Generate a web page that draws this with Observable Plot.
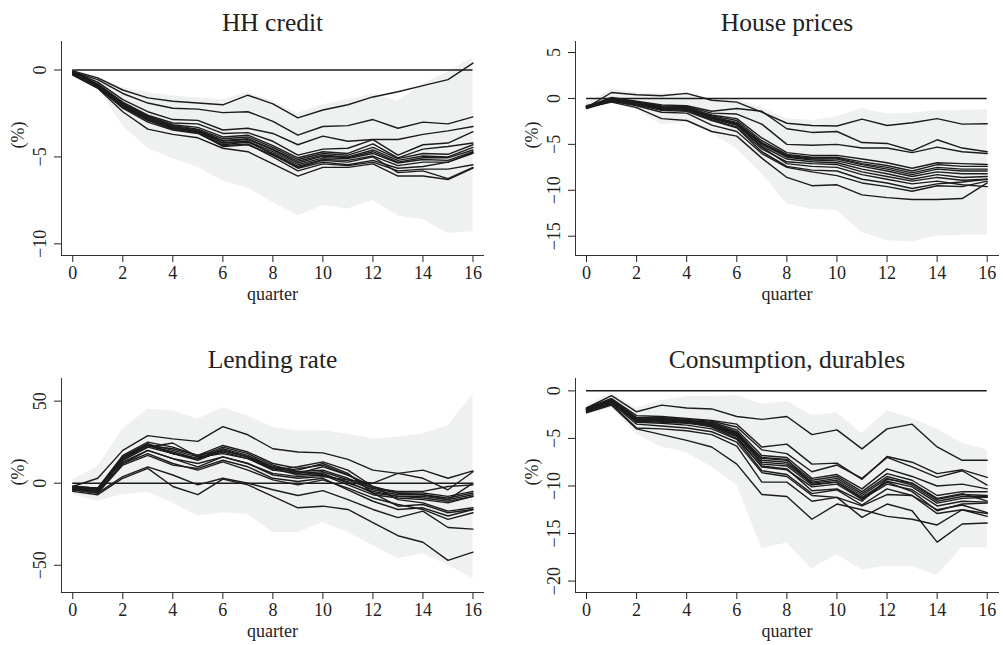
<!DOCTYPE html>
<html>
<head>
<meta charset="utf-8">
<script src="https://cdn.jsdelivr.net/npm/d3@7"></script>
<script src="https://cdn.jsdelivr.net/npm/@observablehq/plot@0.6"></script>
<style>
  html, body { margin: 0; padding: 0; background: #fff; }
  #figure { position: relative; width: 1003px; height: 645px; overflow: hidden; }
  #figure svg { position: absolute; overflow: visible; }
</style>
</head>
<body>
<div id="figure"></div>
<script>
// Impulse responses over 16 quarters: one line per model, shaded band = error bands.
const quarters = [0, 1, 2, 3, 4, 5, 6, 7, 8, 9, 10, 11, 12, 13, 14, 15, 16];
const xTicks = [0, 2, 4, 6, 8, 10, 12, 14, 16];

// HH credit (%)
const hhCreditLines = [
  [-0.05, -0.45, -1.15, -1.6, -1.8, -1.9, -2.0, -1.45, -1.95, -2.75, -2.3, -2.0, -1.55, -1.25, -0.9, -0.55, 0.4],
  [-0.1, -0.55, -1.35, -1.9, -2.2, -2.25, -2.45, -2.4, -2.95, -3.75, -3.25, -3.2, -2.85, -3.35, -3.0, -3.1, -2.7],
  [-0.1, -0.7, -1.7, -2.4, -2.85, -2.9, -3.45, -3.35, -3.65, -4.3, -3.8, -4.1, -4.0, -4.0, -3.7, -3.5, -3.25],
  [-0.1, -0.8, -1.85, -2.6, -3.05, -3.1, -3.65, -3.6, -4.1, -4.9, -4.55, -4.5, -4.0, -4.9, -4.3, -4.2, -3.55],
  [-0.15, -0.85, -1.9, -2.65, -3.15, -3.3, -3.85, -3.75, -4.35, -5.05, -4.7, -4.8, -4.25, -5.05, -4.55, -4.4, -4.2],
  [-0.15, -0.9, -1.95, -2.7, -3.2, -3.4, -3.95, -3.85, -4.45, -5.15, -4.8, -4.9, -4.45, -5.1, -4.8, -4.85, -4.3],
  [-0.2, -0.9, -2.0, -2.75, -3.25, -3.45, -4.05, -3.95, -4.55, -5.25, -4.9, -5.0, -4.6, -5.2, -4.95, -5.0, -4.45],
  [-0.2, -0.95, -2.05, -2.8, -3.3, -3.5, -4.1, -4.0, -4.6, -5.35, -4.95, -5.05, -4.7, -5.3, -5.05, -5.05, -4.6],
  [-0.2, -0.95, -2.1, -2.85, -3.35, -3.55, -4.2, -4.1, -4.7, -5.45, -5.05, -5.1, -4.8, -5.35, -5.15, -5.2, -4.7],
  [-0.25, -1.0, -2.15, -2.9, -3.4, -3.6, -4.3, -4.15, -4.8, -5.55, -5.15, -5.2, -4.95, -5.5, -5.3, -5.3, -4.8],
  [-0.2, -0.9, -2.05, -2.85, -3.3, -3.5, -4.2, -4.1, -4.85, -5.65, -5.3, -5.45, -5.2, -5.65, -5.55, -5.3, -4.75],
  [-0.25, -1.0, -2.2, -3.0, -3.45, -3.65, -4.35, -4.25, -5.0, -5.8, -5.4, -5.5, -5.3, -5.8, -5.7, -5.7, -5.45],
  [-0.3, -1.05, -2.4, -3.4, -3.7, -3.9, -4.5, -4.7, -5.4, -6.1, -5.6, -5.6, -5.4, -6.1, -6.1, -6.3, -5.65],
  [-0.2, -0.95, -2.1, -2.9, -3.35, -3.6, -4.4, -4.3, -4.9, -5.6, -5.2, -5.3, -5.0, -5.9, -5.8, -6.25, -5.6]
];
const hhCreditHi = [0.0, -0.4, -1.0, -1.3, -1.5, -1.6, -1.7, -1.3, -1.8, -2.5, -2.0, -1.7, -1.4, -1.8, -0.8, -0.1, 0.7];
const hhCreditLo = [-0.3, -1.0, -3.2, -4.5, -5.1, -5.6, -6.4, -6.8, -7.6, -8.4, -7.8, -8.0, -7.5, -8.4, -8.6, -9.4, -9.3];

// House prices (%)
const housePriceLines = [
  [-1.0, 0.65, 0.4, 0.3, 0.55, -0.2, -0.4, -1.5, -2.7, -2.95, -3.0, -2.25, -2.95, -2.65, -2.2, -2.8, -2.75],
  [-0.9, 0.1, -0.3, -0.7, -0.8, -1.4, -1.1, -1.4, -3.3, -3.7, -3.6, -4.8, -4.9, -5.7, -4.5, -5.4, -5.8],
  [-0.9, 0.0, -0.4, -0.8, -0.9, -1.6, -1.7, -2.8, -5.0, -5.1, -5.0, -5.4, -5.4, -5.9, -5.3, -5.8, -6.0],
  [-0.8, -0.1, -0.4, -0.9, -1.0, -1.8, -2.2, -4.3, -5.9, -6.2, -6.2, -6.6, -7.0, -7.6, -7.0, -7.1, -7.2],
  [-0.9, -0.1, -0.5, -1.0, -1.0, -1.9, -2.4, -4.6, -6.1, -6.4, -6.4, -6.9, -7.3, -7.9, -7.2, -7.4, -7.4],
  [-0.9, -0.1, -0.5, -1.0, -1.1, -2.0, -2.6, -4.8, -6.2, -6.5, -6.5, -7.1, -7.5, -8.1, -7.5, -7.7, -7.7],
  [-0.9, -0.2, -0.5, -1.1, -1.1, -2.0, -2.7, -4.9, -6.3, -6.6, -6.6, -7.2, -7.7, -8.3, -7.7, -7.9, -7.9],
  [-1.0, -0.2, -0.6, -1.1, -1.2, -2.1, -2.8, -5.0, -6.4, -6.7, -6.8, -7.4, -7.9, -8.5, -8.0, -8.2, -8.2],
  [-1.0, -0.2, -0.6, -1.2, -1.2, -2.2, -2.9, -5.2, -6.6, -6.9, -7.0, -7.7, -8.2, -8.8, -8.3, -8.6, -8.5],
  [-1.0, -0.3, -0.6, -1.2, -1.3, -2.3, -3.1, -5.5, -6.9, -7.1, -7.2, -8.0, -8.5, -9.0, -8.6, -8.9, -8.8],
  [-1.0, -0.2, -0.7, -1.3, -1.4, -2.4, -3.2, -5.8, -7.4, -7.8, -7.9, -8.8, -9.2, -9.8, -9.3, -9.1, -8.8],
  [-1.1, -0.3, -0.8, -1.5, -1.6, -2.9, -3.6, -6.0, -7.5, -8.0, -8.4, -9.2, -9.6, -10.1, -9.5, -9.6, -9.0],
  [-1.0, -0.4, -1.0, -2.2, -2.4, -3.6, -4.1, -6.5, -8.6, -9.5, -9.4, -10.5, -10.8, -11.0, -11.0, -10.9, -9.2],
  [-0.9, -0.1, -0.5, -1.1, -1.1, -2.1, -2.9, -5.3, -7.1, -7.4, -7.5, -8.3, -8.8, -9.3, -9.0, -9.4, -9.6]
];
const housePriceHi = [-0.5, 1.0, 0.6, 0.5, 0.6, 0.0, -0.1, -1.0, -2.2, -2.4, -2.0, -1.1, -1.7, -1.6, -1.3, -1.3, -1.2];
const housePriceLo = [-1.3, -0.5, -1.2, -2.9, -2.6, -3.8, -5.5, -8.2, -11.5, -12.1, -12.2, -14.6, -15.5, -15.6, -15.0, -14.9, -14.9];

// Lending rate (%)
const lendingRateLines = [
  [-2, 3, 20, 29, 27, 25.5, 34.5, 29.5, 21, 19, 18.5, 14.5, 8, 6, 3, -4, 7],
  [-5, -7, 3, 9, -2, -7, 2.5, -1, -8, -15, -14, -16, -24, -32, -36, -47, -42],
  [-4, -6, 4, 10, 5, -1, 3, 0, -4, -7.5, -4.5, -10, -16, -21, -17, -27, -28],
  [-3, -5, 12, 18, 12, 8, 13, 8, 2, -1, 2, -3, -9, -13, -16, -22, -18],
  [-2, -3, 14, 22, 24.5, 16, 18, 15, 8, 10, 13, 8, -2, -10, -12, -17, -15],
  [-3, -4, 15, 23, 19, 15, 21, 17, 10, 6, 7, 2, -4, -7, -7, -9, -6],
  [-3, -4, 16, 24, 20, 16, 22, 18, 11, 7, 8, 3, -3, -6, -6, -8, -5],
  [-4, -4, 14, 22, 18, 14, 20, 16, 9, 5, 6, 0, -5, -8, -8, -10, -7],
  [-3, -3, 16, 23, 18, 15, 19, 15, 9, 7, 5, 1, -6, -8, -9, -11, -8],
  [-2, -3, 13, 20, 15, 10, 16, 12, 5, 3, 4, 2, 0, 6, 8, 3, 7.5],
  [-4, -5, 12, 20, 15, 12, 16, 12, 6, 4, 5, -1, -7, -9, -10, -12, -8],
  [-3, -4, 15, 23, 21, 17, 20, 16, 10, 8, 12, 6, -6, -14, -13, -18, -16],
  [-3, -4, 16, 24, 18, 15, 20, 16, 8, 6, 10, 5, -2, -6, -7, -10, 0],
  [-2, -3, 17, 25, 22, 17, 23, 19, 12, 9, 11, 5, -3, -5, -5, -2, -1],
  [-4, -6, 11, 17, 11, 9, 14, 10, 3, 1, 3, -4, -11, -16, -15, -20, -16]
];
const lendingRateHi = [2, 10, 33, 45, 44, 39, 46, 41, 34, 32, 32, 30, 27, 28, 30, 35, 54];
const lendingRateLo = [-7, -11, -7, -5.5, -12, -20, -18, -19, -30, -30, -24, -30, -38, -46, -43, -50, -58];

// Consumption, durables (%)
const durablesLines = [
  [-1.8, -0.5, -2.2, -1.5, -1.8, -1.9, -2.7, -3.0, -2.7, -4.6, -4.1, -6.1, -4.0, -3.5, -5.9, -7.3, -7.3],
  [-1.8, -0.8, -2.6, -2.7, -2.9, -3.1, -3.5, -5.9, -5.6, -7.7, -7.6, -9.3, -6.9, -7.5, -8.7, -8.3, -9.1],
  [-1.9, -0.9, -2.8, -2.8, -3.0, -3.2, -3.8, -6.2, -6.6, -8.5, -7.8, -9.2, -7.0, -8.0, -9.1, -8.4, -9.9],
  [-1.9, -0.9, -2.9, -2.9, -3.1, -3.3, -4.1, -6.8, -7.0, -9.2, -8.8, -10.3, -8.2, -9.0, -10.0, -9.8, -10.3],
  [-2.0, -1.0, -3.0, -3.0, -3.1, -3.4, -4.3, -7.1, -7.3, -9.4, -9.0, -10.6, -8.7, -9.4, -11.0, -10.6, -10.6],
  [-2.0, -1.0, -3.0, -3.0, -3.2, -3.5, -4.4, -7.3, -7.5, -9.6, -9.2, -10.8, -9.0, -9.7, -11.4, -10.9, -11.0],
  [-2.0, -1.1, -3.1, -3.1, -3.2, -3.5, -4.5, -7.5, -7.7, -9.7, -9.4, -11.0, -9.2, -9.9, -11.6, -11.1, -11.1],
  [-2.1, -1.1, -3.1, -3.2, -3.3, -3.6, -4.6, -7.7, -7.9, -9.9, -9.6, -11.2, -9.5, -10.1, -11.8, -11.3, -11.2],
  [-2.1, -1.2, -3.2, -3.3, -3.4, -3.7, -4.8, -8.0, -8.3, -10.1, -9.8, -11.4, -9.8, -10.4, -12.1, -11.6, -11.7],
  [-2.1, -1.2, -3.3, -3.4, -3.6, -4.0, -5.1, -8.4, -8.8, -10.8, -10.4, -12.0, -10.3, -11.0, -12.5, -12.0, -12.8],
  [-2.2, -1.3, -3.5, -3.7, -3.9, -4.3, -5.4, -8.6, -9.0, -11.0, -11.2, -12.1, -10.9, -11.0, -12.9, -12.5, -13.2],
  [-2.2, -1.4, -3.9, -4.0, -4.2, -4.6, -5.8, -9.6, -9.6, -11.6, -11.2, -13.3, -11.9, -12.6, -15.9, -14.0, -13.9],
  [-2.3, -1.5, -4.0, -4.6, -5.2, -5.9, -7.7, -10.9, -11.1, -13.5, -11.9, -12.5, -13.2, -13.5, -14.1, -12.5, -12.9],
  [-2.0, -1.1, -3.0, -3.1, -3.3, -3.8, -5.0, -7.9, -8.2, -10.5, -10.3, -11.6, -9.3, -9.7, -11.3, -10.8, -11.6],
  [-1.9, -1.0, -2.9, -2.9, -3.1, -3.6, -4.7, -7.0, -7.2, -9.8, -9.6, -11.3, -9.6, -10.6, -12.6, -11.9, -11.8]
];
const durablesHi = [-1.5, -0.3, -1.8, -1.0, -0.6, -0.6, -0.5, -1.4, -1.1, -2.6, -2.3, -4.5, -2.1, -2.9, -4.0, -5.5, -6.2];
const durablesLo = [-2.5, -1.8, -4.6, -5.9, -6.5, -8.0, -9.9, -16.6, -16.0, -18.7, -17.2, -18.8, -18.5, -18.5, -19.4, -16.5, -16.5];

const ink = "#1c1c1c";
const band = "#eff1f1";

function panel({title, lines, lo, hi, yDomain, yTicks, left, top, width, height, margins, xDomain}) {
  const series = lines.flatMap((vals, k) => quarters.map((q, i) => ({model: k, q, v: vals[i]})));
  const bandRows = quarters.map((q, i) => ({q, lo: lo[i], hi: hi[i]}));
  const chart = Plot.plot({
    width, height,
    marginTop: margins[0], marginRight: margins[1], marginBottom: margins[2], marginLeft: margins[3],
    x: {domain: xDomain},
    y: {domain: yDomain},
    style: {fontFamily: "'Liberation Serif', 'Times New Roman', serif", fontSize: "18px", color: "#222", background: "transparent"},
    marks: [
      Plot.areaY(bandRows, {x: "q", y1: "lo", y2: "hi", fill: band, curve: "linear"}),
      Plot.ruleY([0], {x1: quarters[0], x2: quarters[quarters.length - 1], stroke: ink, strokeWidth: 1.5}),
      Plot.line(series, {x: "q", y: "v", z: "model", stroke: ink, strokeWidth: 1.4, strokeLinejoin: "round"}),
      Plot.frame({anchor: "left", stroke: "#333"}),
      Plot.frame({anchor: "bottom", stroke: "#333"}),
      Plot.axisX({ticks: xTicks, tickSize: 7, tickPadding: 4, tickFormat: d3.format("d"), label: null}),
      Plot.axisY({ticks: yTicks, tickSize: 7, tickPadding: 9, tickRotate: -90, tickFormat: d3.format("d"), label: null}),
      Plot.text([title], {text: d => d, frameAnchor: "top", lineAnchor: "bottom", dy: -11, fontSize: 25.5, fill: "#222"}),
      Plot.text(["quarter"], {text: d => d, frameAnchor: "bottom", lineAnchor: "middle", dy: 39, fontSize: 18, fill: "#222"}),
      Plot.text(["(%)"], {text: d => d, frameAnchor: "left", lineAnchor: "middle", dx: -43, rotate: -90, fontSize: 18, fill: "#222"})
    ]
  });
  chart.style.left = left + "px";
  chart.style.top = top + "px";
  document.getElementById("figure").appendChild(chart);
}

const leftX = [-0.45, 16.42];
const rightX = [-0.44, 16.45];

panel({title: "HH credit", lines: hhCreditLines, lo: hhCreditLo, hi: hhCreditHi,
  yDomain: [-10.67, 1.64], yTicks: [0, -5, -10],
  left: 0, top: 0, width: 500, height: 320, margins: [41, 17, 65, 61], xDomain: leftX});
panel({title: "House prices", lines: housePriceLines, lo: housePriceLo, hi: housePriceHi,
  yDomain: [-17.1, 6.2], yTicks: [5, 0, -5, -10, -15],
  left: 500, top: 0, width: 503, height: 320, margins: [41, 5, 65, 75], xDomain: rightX});
panel({title: "Lending rate", lines: lendingRateLines, lo: lendingRateLo, hi: lendingRateHi,
  yDomain: [-66.6, 63.8], yTicks: [50, 0, -50],
  left: 0, top: 320, width: 500, height: 325, margins: [58, 17, 53, 61], xDomain: leftX});
panel({title: "Consumption, durables", lines: durablesLines, lo: durablesLo, hi: durablesHi,
  yDomain: [-21.2, 1.3], yTicks: [0, -5, -10, -15, -20],
  left: 500, top: 320, width: 503, height: 325, margins: [58, 5, 53, 75], xDomain: rightX});
</script>
</body>
</html>
